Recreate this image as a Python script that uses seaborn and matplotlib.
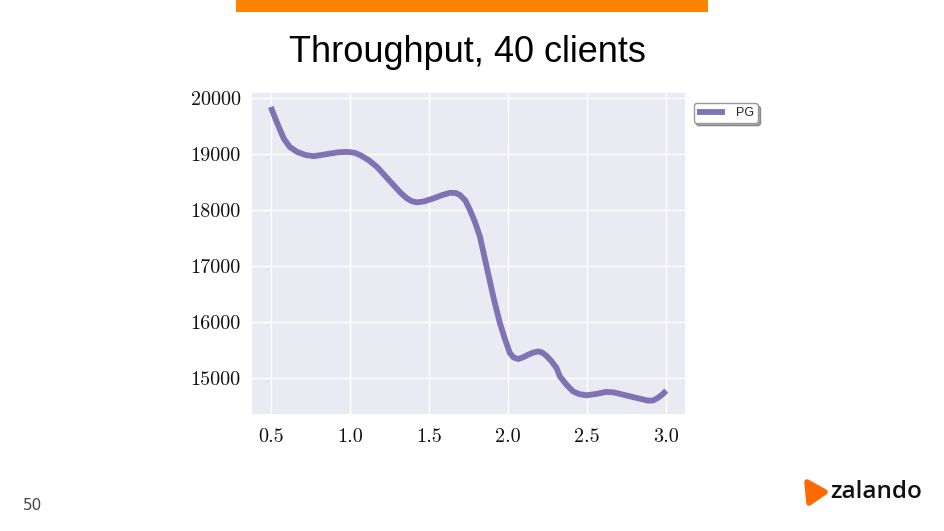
"""Throughput slide: PG, 40 clients."""
import matplotlib
matplotlib.use('Agg')
import matplotlib.pyplot as plt
from matplotlib.patches import Rectangle, Polygon
import seaborn as sns

# values
scale = [0.50, 0.54, 0.582, 0.62, 0.666, 0.72, 0.771, 0.82, 0.876, 0.93, 0.982,
         1.03, 1.066, 1.12, 1.171, 1.22, 1.276, 1.32, 1.360, 1.39, 1.423, 1.47,
         1.528, 1.58, 1.633, 1.67, 1.696, 1.73, 1.759, 1.79, 1.822, 1.864,
         1.906, 1.948, 1.98, 2.011, 2.035, 2.064, 2.095, 2.127, 2.160, 2.190,
         2.215, 2.243, 2.275, 2.306, 2.327, 2.37, 2.410, 2.45, 2.495, 2.56,
         2.621, 2.67, 2.726, 2.80, 2.883, 2.915, 2.946, 2.975, 2.999]
tps = [19845, 19560, 19280, 19130, 19041, 18985, 18964, 18985, 19012, 19035,
       19041, 19025, 18982, 18890, 18773, 18620, 18446, 18310, 18209, 18160,
       18137, 18155, 18209, 18265, 18309, 18305, 18268, 18170, 18000, 17790,
       17523, 16988, 16452, 15977, 15690, 15441, 15360, 15334, 15365, 15411,
       15450, 15470, 15450, 15388, 15290, 15173, 15023, 14870, 14755, 14705,
       14684, 14710, 14745, 14735, 14696, 14645, 14589, 14590, 14637, 14700,
       14768]
series_name = 'PG'
title = 'Throughput, 40 clients'
page_no = '50'

sns.set_theme(style='darkgrid')
fig = plt.figure(figsize=(9.45, 5.31), dpi=100)
fig.patch.set_facecolor('white')
ax = fig.add_axes([0.2656, 0.2179, 0.4603, 0.6083])

sns.lineplot(x=scale, y=tps, ax=ax, label=series_name,
             color=sns.color_palette('deep')[4], linewidth=4.2,
             solid_joinstyle='round', solid_capstyle='butt')

ax.set_xticks([0.5, 1.0, 1.5, 2.0, 2.5, 3.0])
ax.set_yticks([15000, 16000, 17000, 18000, 19000, 20000])
ax.tick_params(labelfontfamily='cmr10', labelsize=14.5, colors='#111111')
ax.tick_params(axis='x', pad=3)
ax.tick_params(axis='y', pad=1.5)

leg = ax.legend(loc='upper left', bbox_to_anchor=(1.003, 0.985), frameon=True,
                shadow=True, fancybox=True, fontsize=9, handlelength=2.2,
                borderpad=0.3, labelspacing=0.2, handletextpad=0.9)
leg.get_frame().set_facecolor('white')
leg.get_frame().set_edgecolor('#999999')
for t in leg.get_texts():
    t.set_fontfamily('Liberation Sans')

# slide decorations
fig.add_artist(Rectangle((236 / 945, 1 - 12 / 531), 472 / 945, 12 / 531,
                         transform=fig.transFigure, color='#ff8200', lw=0))
fig.text(0.495, 1 - 53 / 531, title, ha='center', va='center',
         fontsize=26, family='Liberation Sans', color='black')
fig.text(33 / 945, 1 - 506 / 531, page_no, ha='center', va='center',
         fontsize=11, family='DejaVu Sans', color='#444444')
fig.add_artist(Polygon([(807 / 945, 1 - 482 / 531), (825 / 945, 1 - 492 / 531),
                        (809 / 945, 1 - 503 / 531)], closed=True,
                       transform=fig.transFigure, facecolor='#ff6900',
                       edgecolor='#ff6900', lw=4, joinstyle='round'))
fig.text(830 / 945, 1 - 492 / 531, 'zalando', ha='left', va='center',
         fontsize=17.5, family='Open Sans', weight='semibold', color='#111111')

fig.savefig('out.png', dpi=100)
